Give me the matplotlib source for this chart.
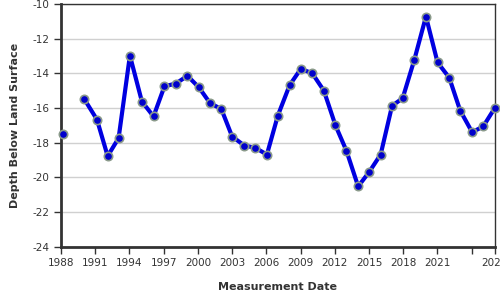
import numpy as np
import matplotlib
matplotlib.use("Agg")
import matplotlib.pyplot as plt

plt.rcParams['font.family'] = ['DejaVu Sans']
plt.rcParams['axes.unicode_minus'] = False

# measurement dates (decimal years) and depth below land surface (ft)
years = [1988.15, 1990.04, 1991.15, 1992.09, 1993.05, 1994.04, 1995.09, 1996.11,
         1997.07, 1998.06, 1999.08, 2000.07, 2001.06, 2002.06, 2003.0, 2004.07,
         2005.03, 2006.05, 2007.01, 2008.04, 2009.02, 2010.02, 2011.04, 2012.06,
         2013.02, 2014.05, 2015.01, 2016.02, 2017.02, 2017.95, 2018.97, 2019.99,
         2021.01, 2022.03, 2022.99, 2024.04, 2025.01, 2026.0]
depth = [-17.53, -15.49, -16.67, -18.78, -17.74, -12.98, -15.63, -16.49,
         -14.75, -14.6, -14.15, -14.8, -15.72, -16.07, -17.65, -18.17,
         -18.3, -18.69, -16.44, -14.69, -13.75, -14.0, -15.0, -17.01,
         -18.47, -20.53, -19.7, -18.69, -15.88, -15.44, -13.23, -10.73,
         -13.38, -14.25, -16.15, -17.4, -17.07, -16.03]

xtick_pos = [1988, 1991, 1994, 1997, 2000, 2003, 2006, 2009, 2012, 2015, 2018, 2021, 2024, 2026]
xtick_lab = ['1988', '1991', '1994', '1997', '2000', '2003', '2006', '2009', '2012', '2015',
             '2018', '2021', '', '2026']
ytick_pos = [-24, -22, -20, -18, -16, -14, -12, -10]

fig = plt.figure(figsize=(5, 3), dpi=100)
ax = fig.add_axes([0.122, 0.178, 0.867, 0.809])

# gap between 1988 and 1990
ax.plot(years[:1], depth[:1], color='#0000e0', lw=3, marker='o', ms=6,
        mfc='#0000cc', mec='#8a9a8a', mew=1.2, clip_on=False, zorder=3)
ax.plot(years[1:], depth[1:], color='#0000e0', lw=3, marker='o', ms=6,
        mfc='#0000cc', mec='#8a9a8a', mew=1.2, clip_on=False, zorder=3)

ax.set_xlim(1988, 2026)
ax.set_ylim(-24, -10)
ax.set_xticks(xtick_pos)
ax.set_xticklabels(xtick_lab)
ax.set_yticks(ytick_pos)
ax.yaxis.grid(True, color='#d0d0d0', lw=1)
ax.set_axisbelow(True)

for s in ['left', 'bottom']:
    ax.spines[s].set_linewidth(2)
    ax.spines[s].set_color('#333333')
for s in ['top', 'right']:
    ax.spines[s].set_linewidth(1)
    ax.spines[s].set_color('#333333')

ax.tick_params(axis='both', labelsize=7.5, colors='#333333', length=5, width=1)
ax.set_xlabel('Measurement Date', fontsize=8, fontweight='bold', color='#333333', labelpad=10)
ax.set_ylabel('Depth Below Land Surface', fontsize=8, fontweight='bold', color='#333333', labelpad=9)

fig.savefig('out.png', dpi=100)
